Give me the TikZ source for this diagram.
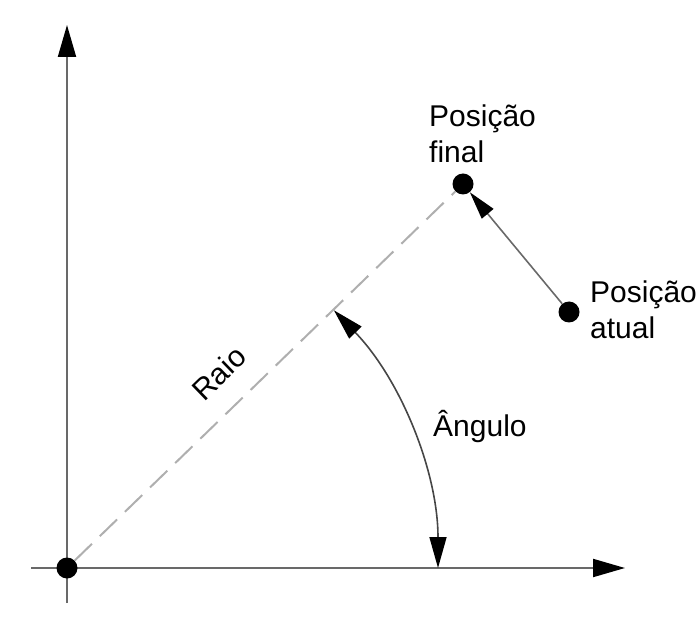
\documentclass[tikz,border=0pt]{standalone}
\usepackage{fontspec}
\setmainfont{Liberation Sans}
\usepackage{xcolor}
\usetikzlibrary{arrows.meta, positioning, calc}

\definecolor{axisgray}{RGB}{105,105,105}
\definecolor{raygray}{RGB}{175,175,175}
\definecolor{arcgray}{RGB}{70,70,70}

\begin{document}
\begin{tikzpicture}[
    x=1pt, y=1pt,
    dot/.style={circle, fill=black, inner sep=0pt, minimum size=21pt},
    lbl/.style={font=\fontsize{30}{36}\selectfont, inner sep=0pt, align=left},
    axis/.style={-{Triangle[length=32pt, width=18pt, color=black]}, line width=2pt, draw=axisgray},
    raydash/.style={dashed, dash pattern=on 24pt off 11pt, line width=2pt, draw=raygray},
    anglearc/.style={{Triangle[length=31pt, width=17pt, color=black]}-{Triangle[length=31pt, width=17pt, color=black]}, line width=1.6pt, draw=arcgray},
    movearrow/.style={-{Triangle[length=28pt, width=15pt, color=black]}, line width=1.6pt, draw=axisgray},
]
\useasboundingbox (0,0) rectangle (700,632);

% eixos
\coordinate (xstart) at (31,64);
\coordinate (xend) at (625,64);
\coordinate (ystart) at (67,29);
\coordinate (yend) at (67,607);
\draw[axis] (xstart) -- (xend);
\draw[axis] (ystart) -- (yend);

% pontos
\node[dot] (orig) at (67,64) {};
\node[dot] (final) at (463,448) {};
\node[dot] (atual) at (569,320) {};

% raio e deslocamento
\draw[raydash] (orig) -- (final);
\draw[movearrow] (atual) -- (final);

% angulo
\coordinate (arclow) at (438,64);
\draw[anglearc] (arclow) arc[start angle=0, end angle=44, radius=371];

% textos
\node[lbl, anchor=base west] (txtfinal) at (429,469) {Posição\\final};
\node[lbl, anchor=base west] (txtatual) at (590,293) {Posição\\atual};
\node[lbl, anchor=base west] (txtangulo) at (433,196) {Ângulo};
\node[lbl, rotate=44] (txtraio) at (219,259) {Raio};

\end{tikzpicture}
\end{document}
